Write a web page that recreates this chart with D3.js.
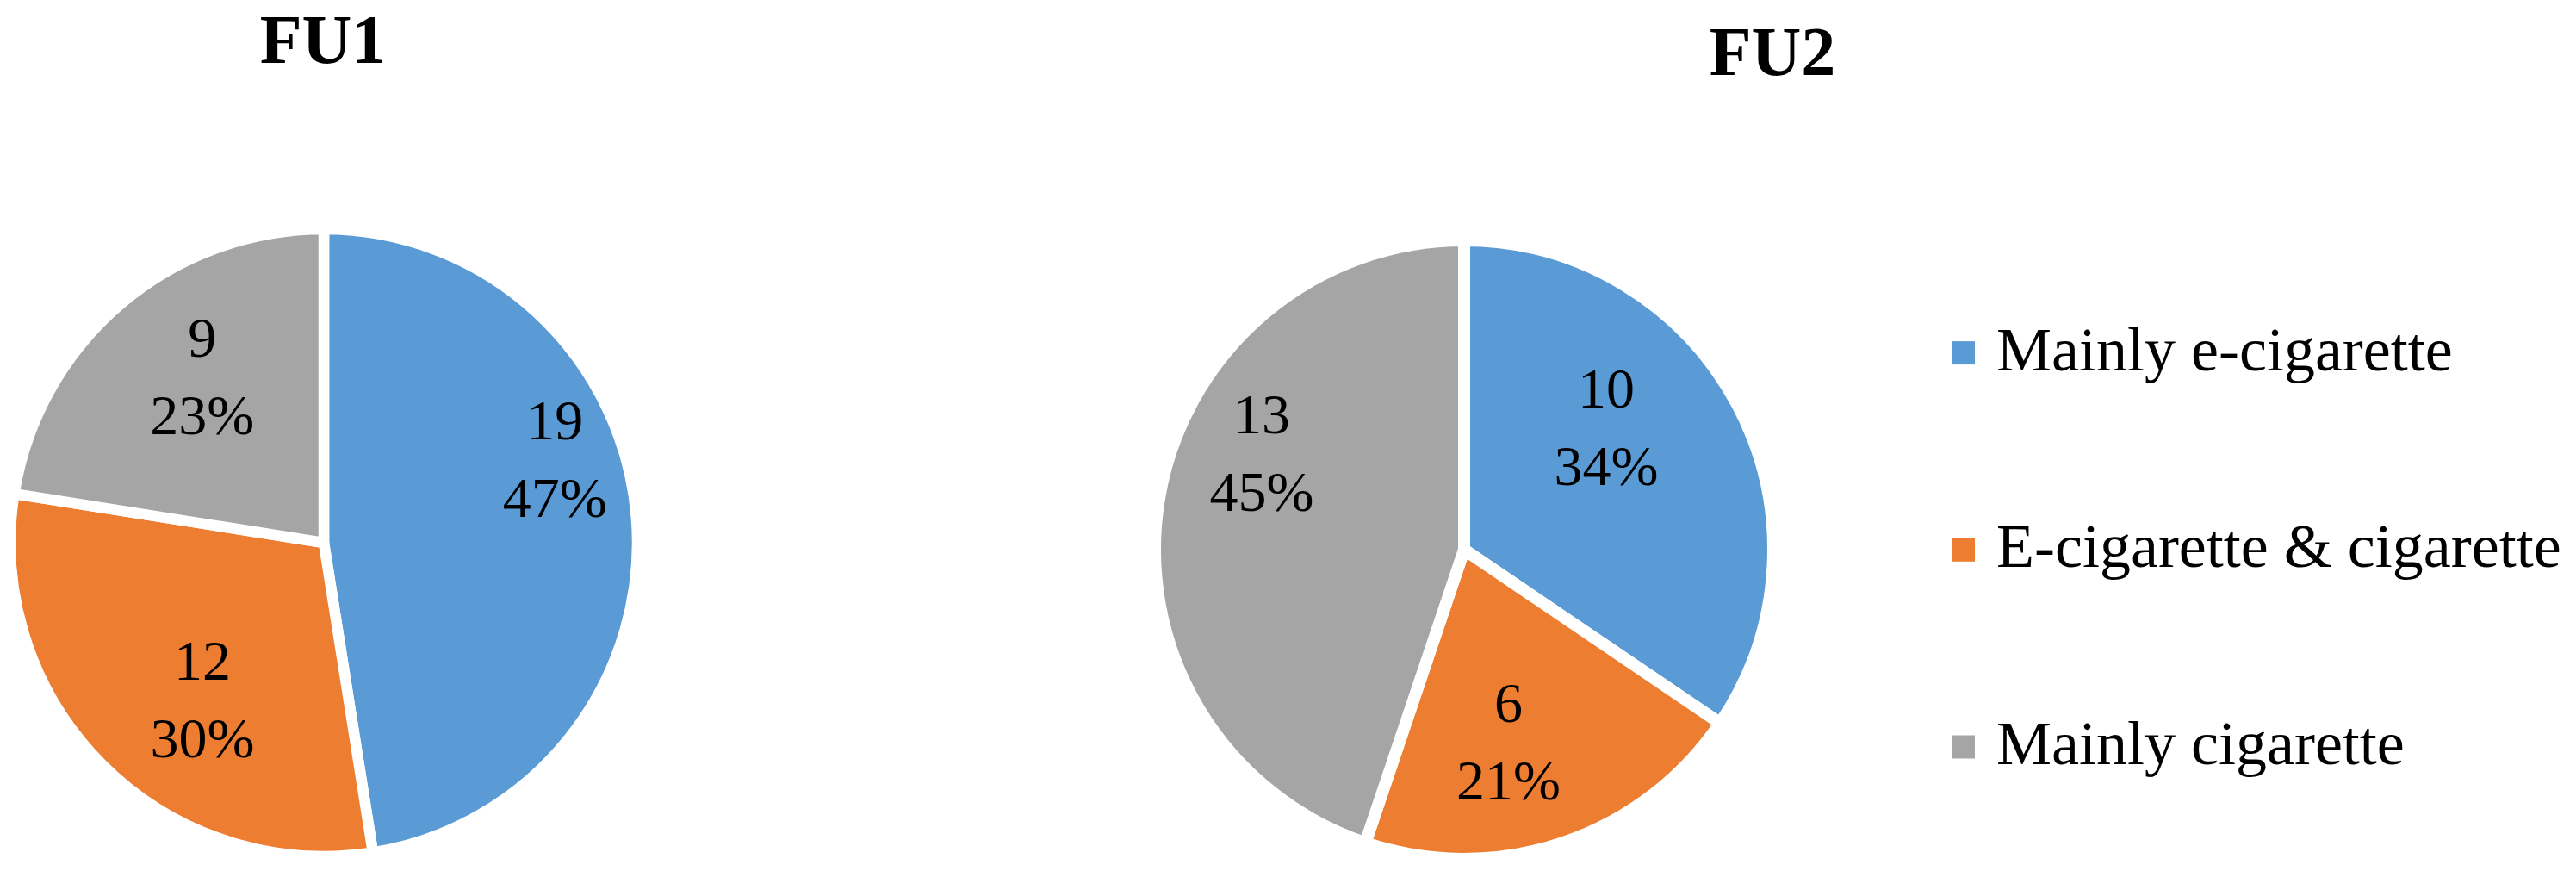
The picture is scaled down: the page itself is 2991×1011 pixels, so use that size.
<!DOCTYPE html>
<html>
<head>
<meta charset="utf-8">
<script src="https://cdn.jsdelivr.net/npm/d3@7"></script>
<style>
  html, body { margin: 0; padding: 0; background: #ffffff; }
  svg { display: block; }
</style>
</head>
<body>
<svg id="chart" width="2991" height="1011"></svg>
<script>
// ---- data ----
const categories = ["Mainly e-cigarette", "E-cigarette & cigarette", "Mainly cigarette"];
const fu1Values = [19, 12, 9];
const fu2Values = [10, 6, 13];
const fu1Percents = ["47%", "30%", "23%"];
const fu2Percents = ["34%", "21%", "45%"];
const pieTitles = ["FU1", "FU2"];

// ---- style / layout ----
const colors = ["#5B9BD5", "#ED7D31", "#A5A5A5"];
const W = 2991, H = 1011;
const serif = "'Liberation Serif', 'Times New Roman', Times, serif";

const pies = [
  { title: pieTitles[0], values: fu1Values, percents: fu1Percents,
    cx: 376, cy: 630, r: 364, gap: 12.5, titleX: 375, titleY: 73,
    // label placement: [angle in degrees, fraction of radius]
    labelPos: [[70, 0.784], [217.8, 0.632], [323.8, 0.657]] },
  { title: pieTitles[1], values: fu2Values, percents: fu2Percents,
    cx: 1700, cy: 638, r: 359, gap: 14, titleX: 2058, titleY: 87,
    labelPos: [[49.3, 0.606], [167, 0.638], [295.5, 0.725]] }
];

const svg = d3.select("#chart");
svg.append("rect").attr("width", W).attr("height", H).attr("fill", "#ffffff");

const color = d3.scaleOrdinal().domain(categories).range(colors);
const pieGen = d3.pie().sort(null).value(d => d.value);

pies.forEach(p => {
  const data = categories.map((c, i) => ({ cat: c, value: p.values[i], pct: p.percents[i], idx: i }));
  const arcs = pieGen(data);
  const arc = d3.arc().innerRadius(0).outerRadius(p.r);

  const g = svg.append("g").attr("transform", `translate(${p.cx},${p.cy})`);
  g.selectAll("path.slice")
    .data(arcs)
    .join("path")
    .attr("class", "slice")
    .attr("d", arc)
    .attr("fill", d => color(d.data.cat))
    .attr("stroke", "#ffffff")
    .attr("stroke-width", p.gap)
    .attr("stroke-linejoin", "miter");

  const labels = g.selectAll("g.lbl")
    .data(arcs)
    .join("g")
    .attr("class", "lbl")
    .attr("transform", d => {
      const lp = p.labelPos[d.index];
      const pt = d3.pointRadial(lp[0] * Math.PI / 180, lp[1] * p.r);
      return `translate(${pt[0]},${pt[1]})`;
    });
  labels.append("text")
    .attr("text-anchor", "middle")
    .attr("y", -22.7)
    .attr("font-family", serif)
    .attr("font-size", 66)
    .attr("fill", "#000")
    .text(d => d.data.value);
  labels.append("text")
    .attr("text-anchor", "middle")
    .attr("y", 67.3)
    .attr("font-family", serif)
    .attr("font-size", 66)
    .attr("fill", "#000")
    .text(d => d.data.pct);

  svg.append("text")
    .attr("x", p.titleX)
    .attr("y", p.titleY)
    .attr("text-anchor", "middle")
    .attr("font-family", serif)
    .attr("font-weight", "bold")
    .attr("font-size", 80)
    .attr("fill", "#000")
    .text(p.title);
});

// ---- legend ----
const legendY = d3.scalePoint().domain(categories).range([409.6, 867]);
const legend = svg.append("g");
const items = legend.selectAll("g.item")
  .data(categories)
  .join("g")
  .attr("class", "item")
  .attr("transform", d => `translate(2266,${legendY(d)})`);
items.append("rect")
  .attr("x", 0).attr("y", -13.5)
  .attr("width", 27).attr("height", 27)
  .attr("fill", d => color(d));
items.append("text")
  .attr("x", 52).attr("y", 20)
  .attr("font-family", serif)
  .attr("font-size", 72)
  .attr("fill", "#000")
  .text(d => d);
</script>
</body>
</html>
